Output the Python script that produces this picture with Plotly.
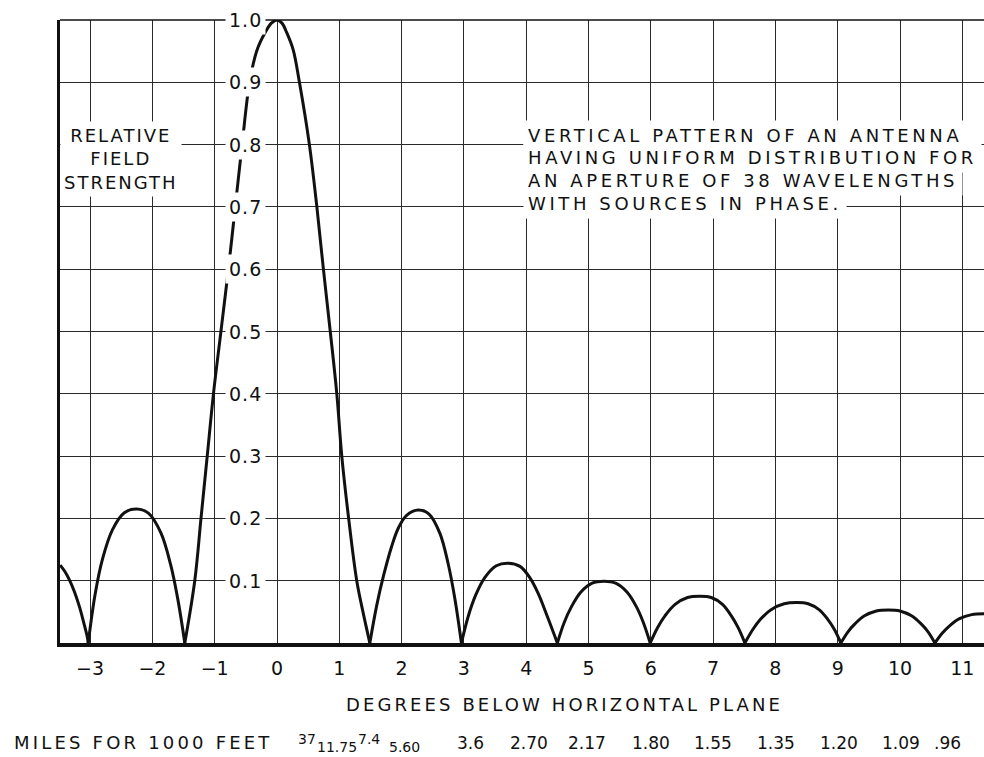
import plotly.graph_objects as go

# relative field strength (the zeros are the nulls)
angle = [
    -3.48, -3.40, -3.33, -3.25, -3.17, -3.10, -3.05, -3.03,
    -2.92, -2.80, -2.64, -2.45, -2.25, -2.06, -1.865, -1.71, -1.595, -1.48,
    -1.32, -1.22, -1.12, -1.02, -0.90, -0.78, -0.67, -0.56, -0.44, -0.32, -0.19, -0.09, 0.0,
    0.08, 0.155, 0.26, 0.36, 0.52, 0.64, 0.745, 0.855, 0.96, 1.04, 1.15, 1.28, 1.38, 1.49,
    1.60, 1.71, 1.84, 1.95, 2.08, 2.27, 2.44, 2.615, 2.75, 2.855, 2.96,
    3.07, 3.185, 3.335, 3.52, 3.71, 3.90, 4.05, 4.19, 4.33, 4.50,
    4.61, 4.725, 4.875, 5.06, 5.25, 5.435, 5.62, 5.77, 5.88, 5.99,
    6.11, 6.23, 6.39, 6.59, 6.79, 6.97, 7.15, 7.29, 7.40, 7.51,
    7.64, 7.76, 7.93, 8.14, 8.35, 8.525, 8.70, 8.84, 8.945, 9.05,
    9.165, 9.28, 9.43, 9.62, 9.81, 10.00, 10.185, 10.335, 10.45, 10.56,
    10.68, 10.80, 10.955, 11.15, 11.35,
]
field = [
    0.125, 0.114, 0.101, 0.082, 0.058, 0.032, 0.012, 0.0,
    0.078, 0.135, 0.182, 0.209, 0.215, 0.208, 0.177, 0.127, 0.072, 0.0,
    0.10, 0.20, 0.30, 0.40, 0.50, 0.60, 0.70, 0.80, 0.90, 0.952, 0.98, 0.995, 1.0,
    0.995, 0.98, 0.952, 0.90, 0.80, 0.70, 0.60, 0.50, 0.40, 0.30, 0.20, 0.10, 0.05, 0.0,
    0.060, 0.108, 0.155, 0.185, 0.205, 0.2135, 0.207, 0.176, 0.126, 0.071, 0.0,
    0.043, 0.076, 0.105, 0.124, 0.128, 0.123, 0.106, 0.080, 0.045, 0.0,
    0.033, 0.058, 0.0815, 0.096, 0.099, 0.096, 0.0815, 0.058, 0.033, 0.0,
    0.025, 0.044, 0.062, 0.073, 0.075, 0.073, 0.062, 0.044, 0.025, 0.0,
    0.022, 0.038, 0.0535, 0.063, 0.065, 0.063, 0.0535, 0.038, 0.022, 0.0,
    0.018, 0.031, 0.0436, 0.0514, 0.053, 0.0514, 0.0436, 0.031, 0.018, 0.0,
    0.016, 0.028, 0.039, 0.0455, 0.047,
]

y_ticks = [0.1, 0.2, 0.3, 0.4, 0.5, 0.6, 0.7, 0.8, 0.9, 1.0]
y_labels = ["0.1", "0.2", "0.3", "0.4", "0.5", "0.6", "0.7", "0.8", "0.9", "1.0"]

# distance scale printed under the degree axis
miles_deg = [0.48, 0.97, 1.48, 2.05, 3.11, 4.05, 4.98, 6.0, 7.0, 8.01, 9.02, 10.02, 10.77]
miles_text = ["37", "11.75", "7.4", "5.60", "3.6", "2.70", "2.17", "1.80", "1.55",
              "1.35", "1.20", "1.09", ".96"]
miles_shift = [4, -4, 4, -4, 0, 0, 0, 0, 0, 0, 0, 0, 0]  # raised / lowered figures, px

note_lines = [
    "VERTICAL PATTERN OF AN ANTENNA",
    "HAVING UNIFORM DISTRIBUTION FOR",
    "AN APERTURE OF 38 WAVELENGTHS",
    "WITH SOURCES IN PHASE.",
]

FONT = "DejaVu Sans"
INK = "#111111"


def spaced(text, px):
    return f'<span style="letter-spacing:{px}px">{text}</span>'


# break the curve at every null so each lobe keeps its cusp
xs, ys = [], []
for i, (a, f) in enumerate(zip(angle, field)):
    xs.append(a)
    ys.append(f)
    if f == 0 and 0 < i < len(angle) - 1:
        xs += [None, a]
        ys += [None, f]

fig = go.Figure()
fig.add_trace(go.Scatter(
    x=xs, y=ys, mode="lines",
    line=dict(color=INK, width=3, shape="spline", smoothing=1.0),
    connectgaps=False, hoverinfo="skip",
))

ann = []
for v, t in zip(y_ticks, y_labels):
    ann.append(dict(x=-0.51, y=v, xref="x", yref="y", text=spaced(t, 1), showarrow=False,
                    xanchor="center", yanchor="middle",
                    font=dict(family=FONT, size=19, color=INK),
                    bgcolor="white", borderpad=3))

ann.append(dict(x=-2.5, y=0.777, xref="x", yref="y",
                text="<br>".join(spaced(w, 2) for w in ["RELATIVE", "FIELD", "STRENGTH"]),
                showarrow=False, align="center", xanchor="center", yanchor="middle",
                font=dict(family=FONT, size=18, color=INK), bgcolor="white", borderpad=3))

for k, line in enumerate(note_lines):
    ann.append(dict(x=3.95, y=0.8154 - k * 0.0365, xref="x", yref="y",
                    xanchor="left", yanchor="middle",
                    text=spaced(line, 3.6), showarrow=False,
                    font=dict(family=FONT, size=18, color=INK), bgcolor="white", borderpad=4))

ann.append(dict(x=4.61, y=-0.0995, xref="x", yref="paper", xanchor="center", yanchor="middle",
                text=spaced("DEGREES BELOW HORIZONTAL PLANE", 3.1),
                showarrow=False, font=dict(family=FONT, size=18, color=INK)))
ann.append(dict(x=-48 / 924, y=-0.1605, xref="paper", yref="paper",
                xanchor="left", yanchor="middle",
                text=spaced("MILES FOR 1000 FEET", 3.2), showarrow=False,
                font=dict(family=FONT, size=18, color=INK)))
for d, t, s in zip(miles_deg, miles_text, miles_shift):
    ann.append(dict(x=d, y=-0.1605, xref="x", yref="paper", xanchor="center", yanchor="middle",
                    text=t, showarrow=False, yshift=s,
                    font=dict(family=FONT, size=14 if s else 17, color=INK)))

fig.update_layout(
    width=984, height=757,
    margin=dict(l=60, r=0, t=20, b=114),
    paper_bgcolor="white", plot_bgcolor="white",
    showlegend=False,
    annotations=ann,
    shapes=[dict(type="line", xref="paper", yref="paper", x0=0, x1=1, y0=1, y1=1,
                 line=dict(color=INK, width=1.5))],
    xaxis=dict(
        range=[-3.483, 11.348], tick0=0, dtick=1,
        showgrid=True, gridcolor="#2a2a2a", gridwidth=1.2,
        zeroline=False, showline=True, linecolor=INK, linewidth=3.5,
        ticks="", ticklabelstandoff=5,
        tickfont=dict(family=FONT, size=19, color=INK),
    ),
    yaxis=dict(
        range=[0, 1.0], tick0=0, dtick=0.1,
        showgrid=True, gridcolor="#2a2a2a", gridwidth=1.2,
        zeroline=False, showline=True, linecolor=INK, linewidth=2.5,
        showticklabels=False, ticks="",
    ),
)

fig.write_html("out.html", config={"displayModeBar": False},
               post_script="document.body.style.margin='0';")
